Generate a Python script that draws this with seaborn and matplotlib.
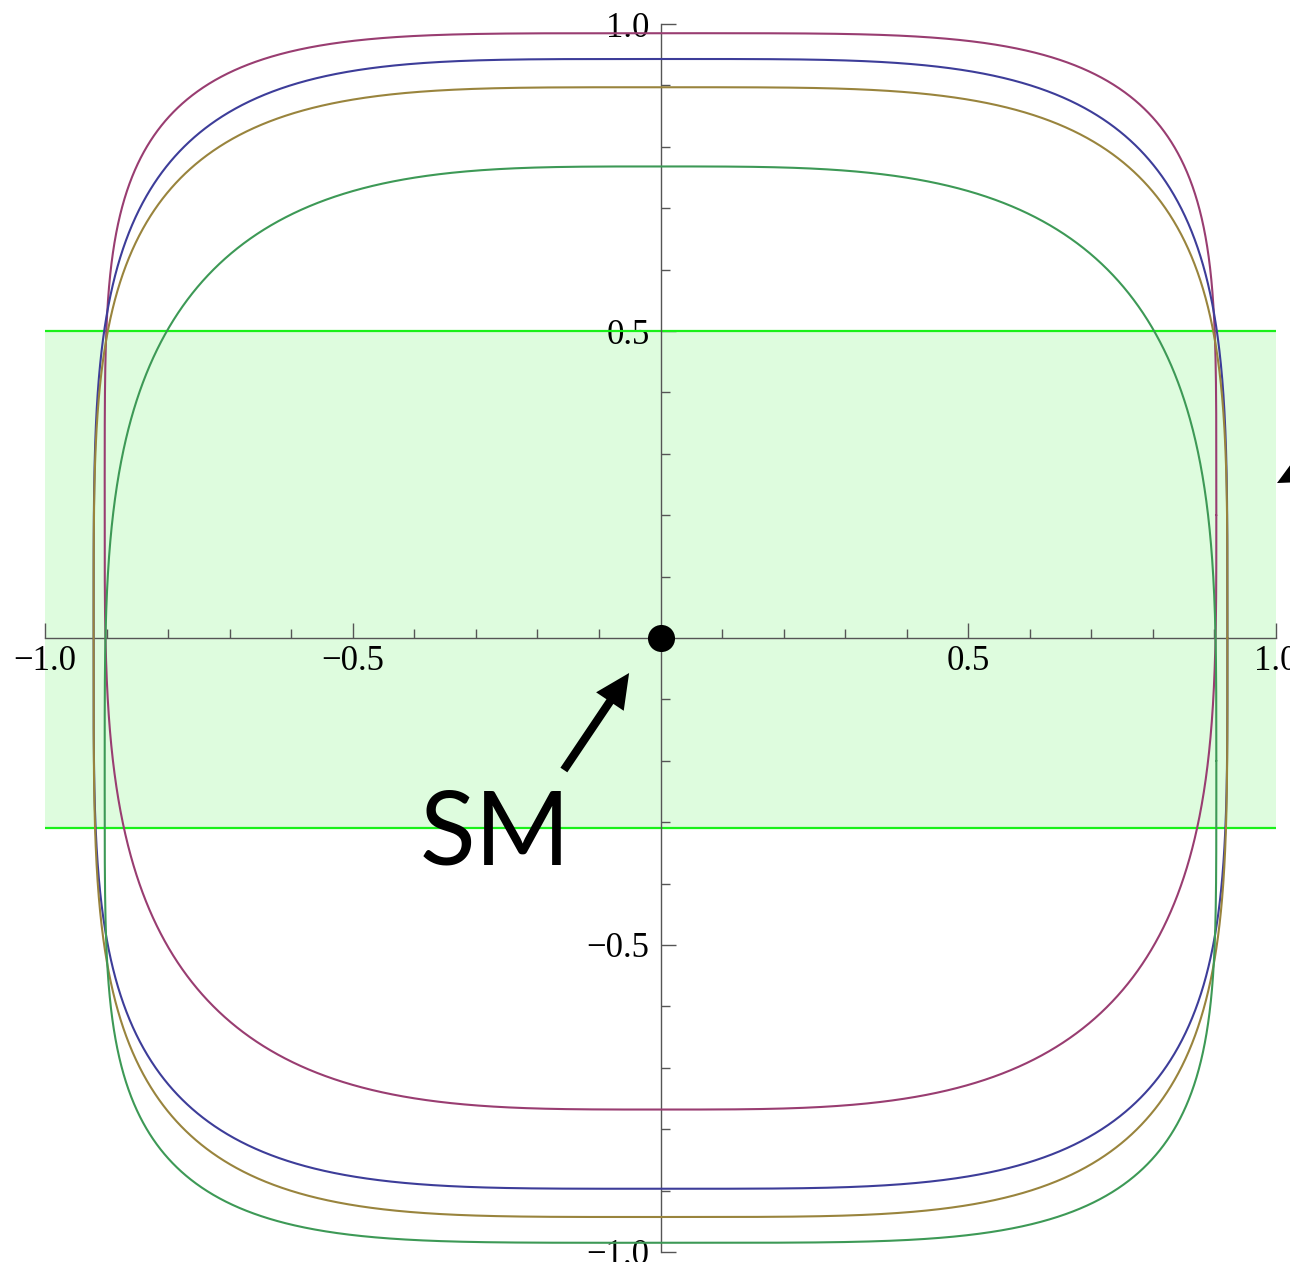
import numpy as np
import pandas as pd
import seaborn as sns
import matplotlib.pyplot as plt
from matplotlib.ticker import FixedLocator

# Four closed contours, each described by its horizontal half-width,
# the height where it is widest, its top/bottom extremes and the
# squareness exponent of its upper and lower halves.
curve_colors = ["#993D71", "#3D3D99", "#99843D", "#3D9956"]
half_width = [0.903, 0.921, 0.921, 0.903]
y_widest = [0.20, 0.0, 0.0, -0.20]
y_top = [0.985, 0.943, 0.897, 0.768]
y_bottom = [-0.768, -0.897, -0.943, -0.985]
exp_top = [4.5, 4.1, 4.0, 3.4]
exp_bottom = [3.4, 4.0, 4.1, 4.5]

# Allowed band
band_low = -0.31
band_high = 0.5

# Axis ticks
major_ticks = [-1.0, -0.5, 0.5, 1.0]
major_labels = ["\u22121.0", "\u22120.5", "0.5", "1.0"]
minor_ticks = [-0.9, -0.8, -0.7, -0.6, -0.4, -0.3, -0.2, -0.1,
               0.1, 0.2, 0.3, 0.4, 0.6, 0.7, 0.8, 0.9]

# Standard Model point and annotation
sm_point = (0.0, 0.0)
sm_label = "SM"
sm_label_pos = (-0.268, -0.322)
sm_arrow_tail = (-0.157, -0.215)
sm_arrow_tip = (-0.051, -0.057)
side_arrow_tail = (1.217, 0.367)
side_arrow_tip = (1.0016, 0.2524)

sns.set_theme(style="white")
plt.rcParams["font.family"] = ["Liberation Serif", "DejaVu Serif"]

fig = plt.figure(figsize=(12.9, 12.62), dpi=100)
ax = fig.add_axes([0, 0, 1, 1])
ax.set_xlim(-1.0731, 1.0227)
ax.set_ylim(-1.0163, 1.0391)
ax.patch.set_facecolor("white")

# shaded band with bright edges
ax.fill_between([-1, 1], band_low, band_high, color="#DEFCDE", lw=0, zorder=0)
ax.hlines([band_low, band_high], -1, 1, color="#19F019", lw=1.6, zorder=1)

t = np.linspace(0, 2 * np.pi, 4001)
for col, a, yc, yt, yb, nt, nb in zip(curve_colors, half_width, y_widest,
                                      y_top, y_bottom, exp_top, exp_bottom):
    c, s = np.cos(t), np.sin(t)
    upper = s >= 0
    n = np.where(upper, nt, nb)
    b = np.where(upper, yt - yc, yc - yb)
    xs = a * np.sign(c) * np.abs(c) ** (2 / n)
    ys = yc + b * np.sign(s) * np.abs(s) ** (2 / n)
    df = pd.DataFrame({"x": xs, "y": ys})
    sns.lineplot(data=df, x="x", y="y", sort=False, estimator=None,
                 color=col, lw=1.5, ax=ax, zorder=3)

# axes through the origin
for side in ["top", "right"]:
    ax.spines[side].set_visible(False)
ax.spines["left"].set_position(("data", 0))
ax.spines["bottom"].set_position(("data", 0))
for side in ["left", "bottom"]:
    ax.spines[side].set_bounds(-1, 1)
    ax.spines[side].set_color("#555555")
    ax.spines[side].set_linewidth(1.0)
    ax.spines[side].set_zorder(2)

ax.xaxis.set_major_locator(FixedLocator(major_ticks))
ax.yaxis.set_major_locator(FixedLocator(major_ticks))
ax.xaxis.set_minor_locator(FixedLocator(minor_ticks))
ax.yaxis.set_minor_locator(FixedLocator(minor_ticks))
ax.set_xticklabels(major_labels)
ax.set_yticklabels(major_labels)
ax.tick_params(which="both", direction="in", bottom=True, left=True,
               top=False, right=False, color="#555555", width=1.0)
ax.tick_params(which="major", length=10.5, labelsize=25, labelcolor="black")
ax.tick_params(which="minor", length=6.5)
ax.tick_params(axis="x", which="major", pad=5)
ax.tick_params(axis="y", which="major", pad=8)
ax.set_xlabel("")
ax.set_ylabel("")

# SM point, arrow and label
sns.scatterplot(x=[sm_point[0]], y=[sm_point[1]], s=380, color="black",
                linewidth=0, ax=ax, zorder=10)
for tail, tip in [(sm_arrow_tail, sm_arrow_tip), (side_arrow_tail, side_arrow_tip)]:
    ax.arrow(tail[0], tail[1], tip[0] - tail[0], tip[1] - tail[1],
             width=0.0135, head_width=0.054, head_length=0.056,
             length_includes_head=True, color="black", lw=0, zorder=10)
ax.text(sm_label_pos[0], sm_label_pos[1], sm_label, family="Lato",
        fontsize=74, ha="center", va="center", color="black", zorder=11)

fig.savefig("out.png", dpi=100)
